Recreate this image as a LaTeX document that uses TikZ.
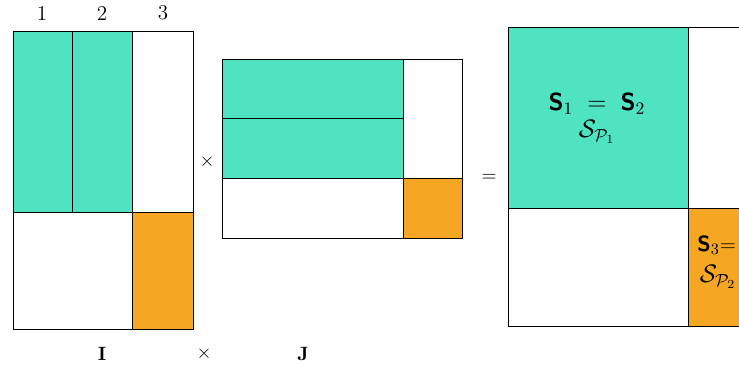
\documentclass[tikz,border=0pt]{standalone}
\usepackage{amsmath}
\definecolor{BlockGreen}{HTML}{50E3C2}
\definecolor{BlockOrange}{HTML}{F5A623}
\newcommand{\bsS}{\mbox{\sffamily\bfseries S}}

\begin{document}
\begin{tikzpicture}[x=0.02cm,y=-0.02cm,
    cell/.style={draw=black,line width=0.5pt},
    greencell/.style={cell,fill=BlockGreen},
    orangecell/.style={cell,fill=BlockOrange},
    colnum/.style={font=\fontsize{12}{14}\selectfont,inner sep=0pt},
    opsym/.style={font=\fontsize{11}{13}\selectfont,inner sep=0pt},
    blocktxt/.style={font=\fontsize{14}{16}\selectfont,inner sep=0pt}
  ]
  \useasboundingbox (0,0) rectangle (739,369);
  \clip (0,0) rectangle (739,369);

  % matrix I
  \draw[greencell] (13,31) rectangle (72,212);
  \draw[greencell] (72,31) rectangle (132,212);
  \draw[orangecell] (132,212) rectangle (193,329);
  \draw[cell] (13,31) rectangle (193,329);
  \node[colnum] (c1) at (42,13) {1};
  \node[colnum] (c2) at (102,13) {2};
  \node[colnum] (c3) at (163,13) {3};

  % matrix J
  \draw[greencell] (222,59) rectangle (403,118);
  \draw[greencell] (222,118) rectangle (403,178);
  \draw[orangecell] (403,178) rectangle (462,238);
  \draw[cell] (222,59) rectangle (462,238);

  % product
  \draw[greencell] (508,27) rectangle (688,208);
  \draw[orangecell] (688,208) rectangle (868,326);
  \draw[cell] (508,27) rectangle (868,326);

  \node[opsym] (times) at (207,162) {$\times$};
  \node[opsym] (eq) at (489,178) {$=$};

  \node[blocktxt] (s12) at (597,104) {$\bsS_1 \;=\; \bsS_2$};
  \node[blocktxt] (sp1) at (597,132) {$\mathcal{S}_{\mathcal{P}_1}$};
  \node[blocktxt,font=\fontsize{12.5}{15}\selectfont,anchor=west] (s3) at (697,245) {$\bsS_3{=}$};
  \node[blocktxt] (sp2) at (718,277) {$\mathcal{S}_{\mathcal{P}_2}$};

  % labels below
  \node[opsym] (lI) at (102,354) {$\mathbf{I}$};
  \node[opsym] (lx) at (204,354) {$\times$};
  \node[opsym] (lJ) at (303,354) {$\mathbf{J}$};
\end{tikzpicture}
\end{document}
